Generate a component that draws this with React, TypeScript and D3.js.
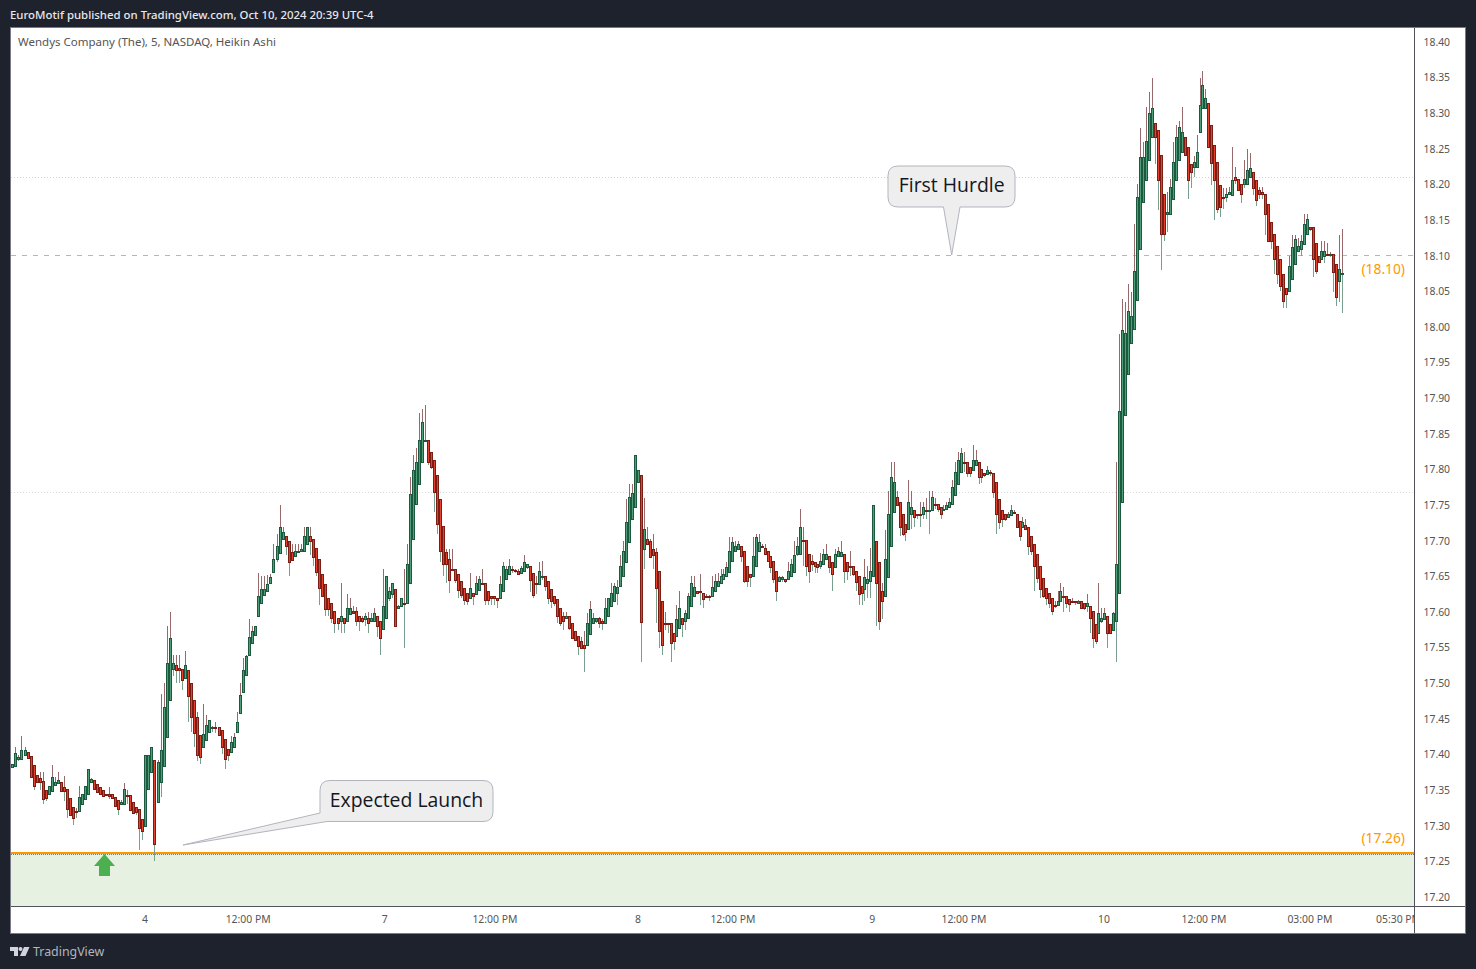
import { useEffect, useRef } from "react";
import * as d3 from "d3";

type Bar = [number, number, number, number]; // open, close, high, low

const barsOct3: Bar[] = [
  [17.381,17.388,17.390,17.380],[17.383,17.386,17.387,17.382],[17.384,17.402,17.410,17.384],[17.393,17.396,17.399,17.391],
  [17.394,17.406,17.426,17.392],[17.400,17.406,17.410,17.400],[17.403,17.395,17.403,17.393],[17.398,17.369,17.398,17.369],
  [17.385,17.356,17.385,17.350],[17.371,17.361,17.371,17.361],[17.367,17.362,17.375,17.350],[17.363,17.337,17.375,17.331],
  [17.350,17.339,17.350,17.335],[17.345,17.356,17.356,17.345],[17.349,17.368,17.385,17.349],[17.357,17.362,17.369,17.357],
  [17.360,17.364,17.375,17.360],[17.362,17.349,17.362,17.349],[17.355,17.349,17.370,17.335],[17.352,17.324,17.352,17.311],
  [17.339,17.315,17.339,17.315],[17.327,17.311,17.327,17.301],[17.321,17.319,17.325,17.311],[17.320,17.340,17.356,17.320],
  [17.330,17.345,17.345,17.330],[17.337,17.356,17.356,17.337],[17.345,17.379,17.379,17.345],[17.361,17.365,17.367,17.360],
  [17.364,17.352,17.364,17.352],[17.358,17.348,17.358,17.347],[17.354,17.345,17.354,17.343],[17.350,17.342,17.350,17.340],
  [17.345,17.344,17.345,17.342],[17.345,17.342,17.355,17.338],[17.344,17.339,17.344,17.338],[17.341,17.328,17.341,17.328],
  [17.336,17.324,17.336,17.315],[17.330,17.333,17.336,17.330],[17.331,17.352,17.360,17.331],[17.343,17.342,17.350,17.331],
  [17.343,17.322,17.343,17.322],[17.333,17.318,17.333,17.318],[17.326,17.319,17.326,17.315],[17.323,17.297,17.323,17.266],
  [17.310,17.292,17.310,17.280],
];

const barsOct4: Bar[] = [
  [17.300,17.400,17.400,17.300],[17.351,17.400,17.400,17.351],[17.375,17.410,17.410,17.375],[17.392,17.275,17.392,17.250],
  [17.334,17.390,17.392,17.334],[17.362,17.406,17.485,17.341],[17.384,17.467,17.500,17.384],[17.425,17.529,17.580,17.425],
  [17.477,17.564,17.600,17.477],[17.520,17.528,17.540,17.510],[17.525,17.519,17.540,17.501],[17.522,17.519,17.540,17.501],
  [17.520,17.504,17.520,17.490],[17.508,17.526,17.545,17.508],[17.518,17.482,17.518,17.446],[17.501,17.452,17.501,17.431],
  [17.476,17.430,17.476,17.411],[17.453,17.400,17.460,17.391],[17.427,17.397,17.427,17.386],[17.411,17.429,17.471,17.411],
  [17.421,17.441,17.455,17.421],[17.431,17.448,17.449,17.431],[17.439,17.439,17.440,17.431],[17.439,17.438,17.445,17.430],
  [17.439,17.428,17.439,17.427],[17.434,17.411,17.434,17.401],[17.422,17.393,17.422,17.380],[17.408,17.399,17.408,17.391],
  [17.403,17.417,17.426,17.403],[17.410,17.425,17.430,17.410],[17.431,17.445,17.460,17.431],[17.458,17.484,17.500,17.458],
  [17.488,17.519,17.535,17.488],[17.512,17.538,17.540,17.512],[17.539,17.565,17.590,17.539],[17.556,17.573,17.580,17.556],
  [17.568,17.580,17.580,17.568],[17.595,17.622,17.655,17.595],[17.613,17.632,17.650,17.613],[17.624,17.632,17.650,17.624],
  [17.630,17.639,17.652,17.630],[17.640,17.649,17.654,17.640],[17.656,17.674,17.695,17.656],[17.675,17.693,17.710,17.670],
  [17.683,17.720,17.750,17.683],[17.702,17.712,17.720,17.702],[17.707,17.693,17.707,17.680],[17.700,17.670,17.700,17.651],
  [17.684,17.673,17.695,17.673],[17.679,17.686,17.695,17.679],[17.684,17.685,17.695,17.683],[17.685,17.688,17.695,17.685],
  [17.686,17.706,17.719,17.686],[17.696,17.719,17.719,17.696],[17.707,17.699,17.720,17.680],[17.703,17.677,17.703,17.665],
  [17.690,17.656,17.690,17.651],[17.674,17.633,17.674,17.610],[17.653,17.623,17.653,17.623],[17.639,17.604,17.639,17.595],
  [17.620,17.604,17.620,17.595],[17.612,17.591,17.612,17.584],[17.601,17.584,17.601,17.571],[17.592,17.584,17.592,17.575],
  [17.588,17.595,17.641,17.571],[17.591,17.584,17.591,17.571],[17.587,17.606,17.625,17.587],[17.597,17.606,17.619,17.597],
  [17.602,17.599,17.609,17.597],[17.601,17.588,17.607,17.580],[17.595,17.588,17.595,17.574],[17.591,17.588,17.595,17.585],
  [17.590,17.594,17.599,17.581],[17.592,17.584,17.600,17.571],[17.588,17.592,17.599,17.588],[17.588,17.598,17.605,17.588],
  [17.594,17.580,17.594,17.565],[17.587,17.564,17.587,17.539],
];

const barsOct7: Bar[] = [
  [17.576,17.609,17.660,17.576],[17.592,17.650,17.650,17.590],[17.620,17.629,17.635,17.615],[17.625,17.640,17.640,17.620],
  [17.632,17.580,17.632,17.580],[17.606,17.609,17.610,17.605],[17.608,17.619,17.619,17.608],[17.613,17.612,17.660,17.550],
  [17.613,17.668,17.695,17.613],[17.640,17.765,17.789,17.640],[17.702,17.799,17.820,17.702],[17.751,17.810,17.830,17.751],
  [17.780,17.842,17.879,17.780],[17.811,17.866,17.885,17.811],[17.840,17.842,17.890,17.840],[17.841,17.811,17.841,17.807],
  [17.825,17.803,17.825,17.800],[17.814,17.769,17.814,17.741],[17.792,17.724,17.792,17.710],[17.758,17.685,17.758,17.670],
  [17.721,17.668,17.721,17.651],[17.684,17.667,17.689,17.641],[17.675,17.645,17.689,17.626],[17.661,17.660,17.689,17.660],
  [17.661,17.645,17.661,17.640],[17.653,17.631,17.653,17.620],[17.643,17.624,17.643,17.620],[17.633,17.617,17.633,17.610],
  [17.626,17.616,17.626,17.610],[17.620,17.633,17.655,17.620],[17.627,17.622,17.627,17.610],[17.625,17.640,17.650,17.625],
  [17.631,17.647,17.650,17.631],[17.640,17.639,17.660,17.639],[17.640,17.617,17.640,17.610],[17.629,17.617,17.629,17.610],
  [17.622,17.619,17.622,17.610],[17.622,17.619,17.622,17.610],[17.620,17.617,17.620,17.605],[17.619,17.639,17.650,17.619],
  [17.629,17.664,17.670,17.629],[17.647,17.660,17.664,17.647],[17.653,17.665,17.674,17.653],[17.660,17.659,17.664,17.655],
  [17.659,17.657,17.660,17.655],[17.658,17.653,17.660,17.653],[17.655,17.662,17.665,17.655],[17.658,17.670,17.680,17.658],
  [17.663,17.667,17.667,17.660],[17.665,17.645,17.665,17.628],[17.655,17.624,17.655,17.619],[17.640,17.639,17.650,17.625],
  [17.639,17.658,17.670,17.639],[17.649,17.651,17.671,17.645],[17.650,17.636,17.650,17.630],[17.643,17.619,17.643,17.611],
  [17.632,17.615,17.632,17.606],[17.623,17.612,17.623,17.608],[17.618,17.595,17.618,17.584],[17.606,17.585,17.606,17.581],
  [17.595,17.588,17.600,17.575],[17.591,17.595,17.600,17.590],[17.594,17.577,17.594,17.575],[17.585,17.563,17.585,17.563],
  [17.574,17.561,17.574,17.561],[17.567,17.552,17.567,17.540],[17.560,17.549,17.565,17.548],[17.554,17.550,17.573,17.516],
  [17.553,17.584,17.599,17.553],[17.569,17.604,17.615,17.569],[17.585,17.592,17.599,17.585],[17.588,17.592,17.592,17.585],
  [17.591,17.584,17.593,17.578],[17.588,17.584,17.590,17.575],[17.585,17.605,17.619,17.585],[17.595,17.619,17.619,17.595],
  [17.608,17.626,17.640,17.608],[17.616,17.636,17.640,17.616],[17.626,17.635,17.645,17.610],[17.637,17.664,17.680,17.637],
  [17.651,17.686,17.700,17.651],[17.670,17.727,17.759,17.670],[17.698,17.761,17.779,17.698],[17.730,17.767,17.779,17.730],
  [17.748,17.820,17.820,17.748],
];

const barsOct8: Bar[] = [
  [17.783,17.799,17.799,17.783],[17.792,17.586,17.792,17.530],[17.689,17.717,17.760,17.660],[17.703,17.695,17.720,17.695],
  [17.699,17.677,17.703,17.677],[17.688,17.680,17.709,17.660],[17.684,17.633,17.690,17.585],[17.658,17.573,17.658,17.550],
  [17.616,17.554,17.616,17.540],[17.585,17.583,17.600,17.575],[17.584,17.583,17.584,17.570],[17.584,17.557,17.584,17.530],
  [17.570,17.560,17.570,17.546],[17.566,17.590,17.610,17.566],[17.577,17.606,17.629,17.577],[17.592,17.583,17.592,17.565],
  [17.587,17.598,17.603,17.575],[17.592,17.622,17.627,17.592],[17.608,17.640,17.650,17.608],[17.623,17.635,17.650,17.623],
  [17.629,17.626,17.629,17.625],[17.629,17.628,17.654,17.610],[17.627,17.618,17.627,17.606],[17.623,17.621,17.625,17.620],
  [17.623,17.622,17.624,17.615],[17.623,17.635,17.650,17.623],[17.629,17.643,17.654,17.629],[17.637,17.643,17.655,17.637],
  [17.640,17.651,17.660,17.640],[17.646,17.653,17.660,17.646],[17.650,17.663,17.670,17.650],[17.656,17.686,17.705,17.656],
  [17.671,17.698,17.705,17.671],[17.685,17.693,17.699,17.685],[17.689,17.695,17.699,17.689],[17.692,17.679,17.692,17.670],
  [17.685,17.643,17.685,17.640],[17.664,17.644,17.664,17.635],[17.654,17.649,17.654,17.635],[17.651,17.678,17.705,17.651],
  [17.665,17.705,17.709,17.665],[17.685,17.698,17.709,17.685],[17.692,17.691,17.695,17.690],[17.690,17.681,17.695,17.681],
  [17.686,17.672,17.686,17.672],[17.679,17.663,17.679,17.655],[17.671,17.646,17.671,17.640],[17.658,17.629,17.658,17.616],
  [17.644,17.649,17.650,17.642],[17.646,17.649,17.650,17.642],[17.647,17.643,17.647,17.641],[17.646,17.657,17.670,17.646],
  [17.651,17.667,17.674,17.651],[17.656,17.680,17.699,17.656],[17.681,17.692,17.705,17.678],[17.681,17.720,17.744,17.681],
  [17.701,17.700,17.719,17.665],[17.701,17.665,17.701,17.650],[17.682,17.658,17.682,17.641],[17.671,17.667,17.680,17.658],
  [17.670,17.665,17.670,17.655],[17.668,17.663,17.668,17.655],[17.665,17.672,17.683,17.660],[17.667,17.681,17.689,17.667],
  [17.675,17.681,17.696,17.675],[17.678,17.663,17.678,17.655],[17.670,17.654,17.670,17.630],[17.663,17.681,17.689,17.663],
  [17.678,17.685,17.691,17.678],[17.678,17.684,17.699,17.678],[17.681,17.658,17.681,17.641],[17.670,17.658,17.670,17.645],
  [17.664,17.663,17.685,17.650],[17.664,17.653,17.664,17.650],[17.658,17.642,17.658,17.630],[17.650,17.625,17.650,17.610],
  [17.637,17.626,17.637,17.610],[17.632,17.649,17.674,17.615],[17.640,17.646,17.665,17.620],[17.643,17.657,17.690,17.620],
];

const barsOct9: Bar[] = [
  [17.650,17.750,17.750,17.650],[17.699,17.640,17.699,17.580],[17.670,17.588,17.670,17.575],[17.629,17.616,17.640,17.590],
  [17.622,17.674,17.715,17.622],[17.649,17.737,17.770,17.649],[17.692,17.790,17.810,17.692],[17.741,17.782,17.810,17.741],
  [17.762,17.750,17.770,17.750],[17.755,17.719,17.755,17.706],[17.737,17.709,17.737,17.706],[17.723,17.712,17.723,17.700],
  [17.717,17.755,17.785,17.717],[17.737,17.748,17.770,17.717],[17.743,17.734,17.743,17.720],[17.738,17.736,17.738,17.730],
  [17.737,17.736,17.755,17.720],[17.737,17.747,17.755,17.730],[17.743,17.742,17.760,17.731],[17.742,17.743,17.770,17.710],
  [17.743,17.762,17.770,17.743],[17.752,17.750,17.760,17.745],[17.751,17.744,17.751,17.740],[17.747,17.738,17.747,17.731],
  [17.743,17.745,17.750,17.743],[17.744,17.750,17.755,17.744],[17.747,17.755,17.760,17.747],[17.751,17.776,17.785,17.751],
  [17.764,17.796,17.810,17.764],[17.779,17.814,17.824,17.779],[17.797,17.823,17.830,17.797],[17.810,17.809,17.824,17.796],
  [17.810,17.795,17.810,17.790],[17.803,17.795,17.803,17.790],[17.799,17.813,17.834,17.799],[17.806,17.814,17.828,17.806],
  [17.810,17.789,17.810,17.780],[17.800,17.789,17.800,17.781],[17.795,17.792,17.795,17.790],[17.793,17.799,17.805,17.793],
  [17.796,17.795,17.799,17.791],[17.795,17.769,17.795,17.760],[17.782,17.737,17.782,17.710],[17.759,17.726,17.759,17.716],
  [17.743,17.731,17.743,17.720],[17.737,17.730,17.737,17.728],[17.733,17.737,17.740,17.733],[17.736,17.743,17.750,17.736],
  [17.740,17.739,17.743,17.738],[17.738,17.719,17.738,17.719],[17.728,17.707,17.728,17.700],[17.719,17.726,17.734,17.719],
  [17.722,17.717,17.730,17.717],[17.720,17.692,17.720,17.680],[17.706,17.686,17.706,17.680],[17.696,17.665,17.696,17.629],
  [17.681,17.648,17.681,17.640],[17.664,17.632,17.664,17.620],[17.648,17.622,17.648,17.620],[17.634,17.620,17.634,17.610],
  [17.627,17.612,17.627,17.605],[17.620,17.602,17.620,17.596],[17.610,17.609,17.615,17.605],[17.610,17.616,17.629,17.609],
  [17.615,17.629,17.640,17.615],[17.622,17.621,17.635,17.600],[17.622,17.613,17.622,17.605],[17.618,17.611,17.618,17.600],
  [17.615,17.614,17.619,17.613],[17.615,17.614,17.615,17.610],[17.613,17.616,17.617,17.613],[17.615,17.606,17.615,17.605],
  [17.612,17.605,17.612,17.603],[17.608,17.612,17.625,17.600],[17.609,17.592,17.609,17.571],[17.601,17.563,17.601,17.550],
  [17.583,17.560,17.583,17.555],[17.571,17.598,17.640,17.571],[17.588,17.592,17.605,17.585],
];

const barsOct10: Bar[] = [
  [17.590,17.599,17.605,17.590],[17.594,17.570,17.594,17.550],[17.583,17.570,17.583,17.570],[17.575,17.599,17.600,17.575],
  [17.588,17.667,17.810,17.530],[17.627,17.882,17.990,17.627],[17.755,17.996,18.039,17.755],[17.876,17.991,18.035,17.876],
  [17.934,18.022,18.060,17.934],[17.977,18.016,18.049,17.977],[17.997,18.078,18.144,17.997],[18.038,18.182,18.200,18.038],
  [18.109,18.239,18.279,18.109],[18.175,18.239,18.260,18.175],[18.207,18.261,18.309,18.207],[18.234,18.300,18.330,18.234],
  [18.266,18.308,18.349,18.266],[18.287,18.266,18.287,18.229],[18.277,18.206,18.277,18.164],[18.241,18.131,18.241,18.080],
  [18.186,18.130,18.186,18.120],[18.158,18.161,18.190,18.134],[18.159,18.197,18.208,18.159],[18.179,18.231,18.260,18.179],
  [18.206,18.266,18.283,18.206],[18.235,18.280,18.289,18.235],[18.245,18.274,18.309,18.245],[18.266,18.241,18.266,18.241],
  [18.253,18.206,18.253,18.180],[18.229,18.218,18.229,18.195],[18.224,18.231,18.240,18.210],[18.224,18.246,18.270,18.224],
  [18.274,18.312,18.349,18.274],[18.307,18.340,18.359,18.307],[18.307,18.321,18.334,18.307],[18.314,18.252,18.314,18.252],
  [18.283,18.230,18.283,18.199],[18.256,18.206,18.256,18.150],[18.231,18.166,18.231,18.160],[18.199,18.169,18.199,18.155],
  [18.183,18.182,18.195,18.165],[18.183,18.186,18.195,18.175],[18.186,18.190,18.197,18.185],[18.185,18.207,18.253,18.185],
  [18.211,18.206,18.225,18.200],[18.208,18.192,18.208,18.192],[18.200,18.187,18.200,18.174],[18.200,18.208,18.235,18.195],
  [18.201,18.221,18.250,18.201],[18.211,18.223,18.244,18.211],[18.217,18.195,18.217,18.185],[18.206,18.178,18.206,18.170],
  [18.192,18.186,18.197,18.180],[18.189,18.186,18.197,18.180],[18.187,18.159,18.187,18.129],[18.173,18.121,18.173,18.121],
  [18.147,18.121,18.147,18.110],[18.131,18.095,18.131,18.075],[18.113,18.075,18.113,18.061],[18.095,18.057,18.095,18.050],
  [18.075,18.036,18.075,18.026],[18.055,18.047,18.055,18.026],[18.051,18.085,18.100,18.051],[18.068,18.112,18.129,18.068],
  [18.089,18.124,18.129,18.089],[18.107,18.114,18.125,18.107],[18.109,18.121,18.129,18.100],[18.116,18.144,18.159,18.116],
  [18.130,18.151,18.159,18.130],[18.141,18.138,18.141,18.135],[18.140,18.096,18.140,18.070],[18.118,18.079,18.118,18.074],
  [18.099,18.091,18.099,18.090],[18.095,18.106,18.120,18.095],[18.100,18.106,18.120,18.090],[18.103,18.102,18.118,18.100],
  [18.102,18.102,18.105,18.098],[18.102,18.077,18.102,18.049],[18.089,18.042,18.089,18.030],[18.065,18.082,18.129,18.035],
  [18.075,18.076,18.138,18.020],
];

const sessions = [barsOct3, barsOct4, barsOct7, barsOct8, barsOct9, barsOct10];

const priceTicks = [18.4,18.35,18.3,18.25,18.2,18.15,18.1,18.05,18,17.95,17.9,17.85,17.8,17.75,17.7,17.65,17.6,17.55,17.5,17.45,17.4,17.35,17.3,17.25,17.2];
const timeLabels = ["4","12:00 PM","7","12:00 PM","8","12:00 PM","9","12:00 PM","10","12:00 PM","03:00 PM","05:30 PM"];
const timeBars = [44.9,78.7,123.5,160.2,207.9,240.2,287.6,319,366.9,400.5,436.1,465.9];
const launchLevel = 17.262;
const hurdleLevel = 18.1;
const upperDotted = 18.21;
const lowerDotted = 17.768;

const sansFont = "'Noto Sans', Tahoma, sans-serif";

const App = () => {
  const svgRef = useRef<SVGSVGElement>(null);

  useEffect(() => {
    if (!svgRef.current) return;
    const svg = d3.select(svgRef.current);
    svg.selectAll("*").remove();

    const bars = sessions.flat();
    // session opens are pinned where the day labels sit, the chart skips overnight gaps unevenly
    const opens = d3.cumsum(sessions.map((s) => s.length));
    const y = d3.scaleLinear().domain([17.2, 18.4]).range([897, 42]);
    const x = d3.scaleLinear()
      .domain([0, opens[0], opens[1], opens[2], opens[3], opens[4], bars.length - 1])
      .range([9.4, 145.3, 383.3, 638.3, 873.3, 1104.3, 1342.3]);
    const px = (i: number) => Math.round(x(i));
    const py = (p: number) => Math.round(y(p));
    const rowY = (p: number) => Math.floor(y(p)) + 0.5;

    // Frame
    svg.append("rect").attr("width", 1476).attr("height", 969).attr("fill", "#1e222d");
    svg.append("rect").attr("x", 10.5).attr("y", 27.5).attr("width", 1455).attr("height", 906)
      .attr("fill", "#fff").attr("stroke", "#787b86");
    svg.append("defs").append("clipPath").attr("id", "pane")
      .append("rect").attr("x", 11).attr("y", 28).attr("width", 1403).attr("height", 878);
    svg.append("defs").append("clipPath").attr("id", "timeaxis")
      .append("rect").attr("x", 11).attr("y", 907).attr("width", 1403).attr("height", 26);

    svg.append("text").attr("x", 10).attr("y", 19).attr("fill", "#e6e8ee")
      .attr("font-family", sansFont).attr("font-size", 11.4).attr("font-weight", 500)
      .text("EuroMotif published on TradingView.com, Oct 10, 2024 20:39 UTC-4");
    svg.append("text").attr("x", 18).attr("y", 46).attr("fill", "#555")
      .attr("font-family", sansFont).attr("font-size", 11.5)
      .text("Wendys Company (The), 5, NASDAQ, Heikin Ashi");

    const pane = svg.append("g").attr("clip-path", "url(#pane)");

    // Zone under the launch level
    pane.append("rect").attr("x", 11).attr("y", py(launchLevel) + 1).attr("width", 1403)
      .attr("height", 906 - py(launchLevel) - 1).attr("fill", "#e6f1e2");

    // Levels
    const hLine = (p: number, color: string, dash: string) =>
      pane.append("line").attr("x1", 11).attr("x2", 1414).attr("y1", rowY(p)).attr("y2", rowY(p))
        .attr("stroke", color).attr("stroke-dasharray", dash);
    hLine(upperDotted, "#bfe3c2", "1 2");
    hLine(lowerDotted, "#d5dcd8", "1 2");
    hLine(hurdleLevel, "#e9ad62", "5 6");
    pane.append("line").attr("x1", 11).attr("x2", 1414).attr("y1", py(launchLevel)).attr("y2", py(launchLevel))
      .attr("stroke", "#ff9800").attr("stroke-width", 2);
    pane.append("line").attr("x1", 11).attr("x2", 1414).attr("y1", py(launchLevel) + 1.5).attr("y2", py(launchLevel) + 1.5)
      .attr("stroke", "#43a047").attr("stroke-dasharray", "1 1");

    // Wicks: upper ones are reddish and lower ones greenish on both candle colours
    const wicks = pane.append("g").attr("shape-rendering", "crispEdges");
    wicks.selectAll("line.up").data(bars).join("line").attr("class", "up")
      .attr("x1", (_, i) => px(i) + 0.5).attr("x2", (_, i) => px(i) + 0.5)
      .attr("y1", (d) => py(d[2])).attr("y2", (d) => py(Math.max(d[0], d[1])))
      .attr("stroke", "#98696a");
    wicks.selectAll("line.down").data(bars).join("line").attr("class", "down")
      .attr("x1", (_, i) => px(i) + 0.5).attr("x2", (_, i) => px(i) + 0.5)
      .attr("y1", (d) => py(Math.min(d[0], d[1]))).attr("y2", (d) => py(d[3]))
      .attr("stroke", "#7b9f8f");

    // Bodies
    pane.append("g").attr("shape-rendering", "crispEdges").selectAll("rect").data(bars).join("rect")
      .attr("x", (_, i) => px(i) - 0.5)
      .attr("y", (d) => py(Math.max(d[0], d[1])) + 0.5)
      .attr("width", 2)
      .attr("height", (d) => Math.max(py(Math.min(d[0], d[1])) - py(Math.max(d[0], d[1])), 1))
      .attr("fill", (d) => (d[1] >= d[0] ? "#4f9e78" : "#e2432f"))
      .attr("stroke", (d) => (d[1] >= d[0] ? "#1c5a3f" : "#7d1c13"));

    // Arrow
    pane.append("path").attr("d", "M104.5 854L115 866H110V876H99V866H94Z").attr("fill", "#4caf50");

    // Callouts
    const note = (d: string, tx: number, ty: number, label: string) => {
      svg.append("path").attr("d", d).attr("fill", "#eeeeee").attr("stroke", "#b2b5be");
      svg.append("text").attr("x", tx).attr("y", ty).attr("text-anchor", "middle")
        .attr("font-family", "'Open Sans', sans-serif").attr("font-size", 19.4).attr("fill", "#131722").text(label);
    };
    note("M898 166H1005Q1015 166 1015 176V197Q1015 207 1005 207H960L951.7 255L943.5 207H898Q888 207 888 197V176Q888 166 898 166Z", 951.7, 192, "First Hurdle");
    note("M330 780.5H483Q493 780.5 493 790.5V811.5Q493 821.5 483 821.5H327L183 845L320 813V790.5Q320 780.5 330 780.5Z", 406.5, 807, "Expected Launch");

    // Level labels
    const levelLabel = (label: string, ty: number) =>
      svg.append("text").attr("x", 1405).attr("y", ty).attr("text-anchor", "end")
        .attr("font-family", sansFont).attr("font-size", 13.8).attr("fill", "#ff9800").text(label);
    levelLabel("(18.10)", 274);
    levelLabel("(17.26)", 843);

    // Price axis
    const priceAxis = svg.append("g").attr("transform", "translate(1414.5,0)")
      .call(d3.axisRight(y).tickValues(priceTicks).tickSize(0).tickPadding(9).tickFormat(d3.format(".2f") as never));
    priceAxis.select(".domain").remove();
    priceAxis.selectAll("text").attr("font-family", sansFont).attr("font-size", 10.4).attr("fill", "#555");
    svg.append("line").attr("x1", 1414.5).attr("x2", 1414.5).attr("y1", 28).attr("y2", 933).attr("stroke", "#50535e");
    svg.append("line").attr("x1", 11).attr("x2", 1465).attr("y1", 906.5).attr("y2", 906.5).attr("stroke", "#50535e");

    // Time axis
    svg.append("g").attr("clip-path", "url(#timeaxis)").selectAll("text").data(timeLabels).join("text")
      .attr("x", (_, i) => x(timeBars[i]))
      .attr("y", 923)
      .attr("text-anchor", "middle")
      .attr("font-family", sansFont).attr("font-size", 10.4).attr("fill", "#555")
      .text((d) => d);

    // Footer
    const logo = svg.append("g").attr("fill", "#d1d4dc");
    logo.append("path").attr("d", "M10 947H18V956H14V951H10Z");
    logo.append("circle").attr("cx", 20.5).attr("cy", 949).attr("r", 2);
    logo.append("path").attr("d", "M24 947H29.5L25.5 956H20Z");
    svg.append("text").attr("x", 33).attr("y", 956).attr("fill", "#b2b5be")
      .attr("font-family", sansFont).attr("font-size", 12.4).text("TradingView");
  }, []);

  return <svg ref={svgRef} width={1476} height={969} style={{ position: "absolute", left: 0, top: 0 }} />;
};

export default App;
